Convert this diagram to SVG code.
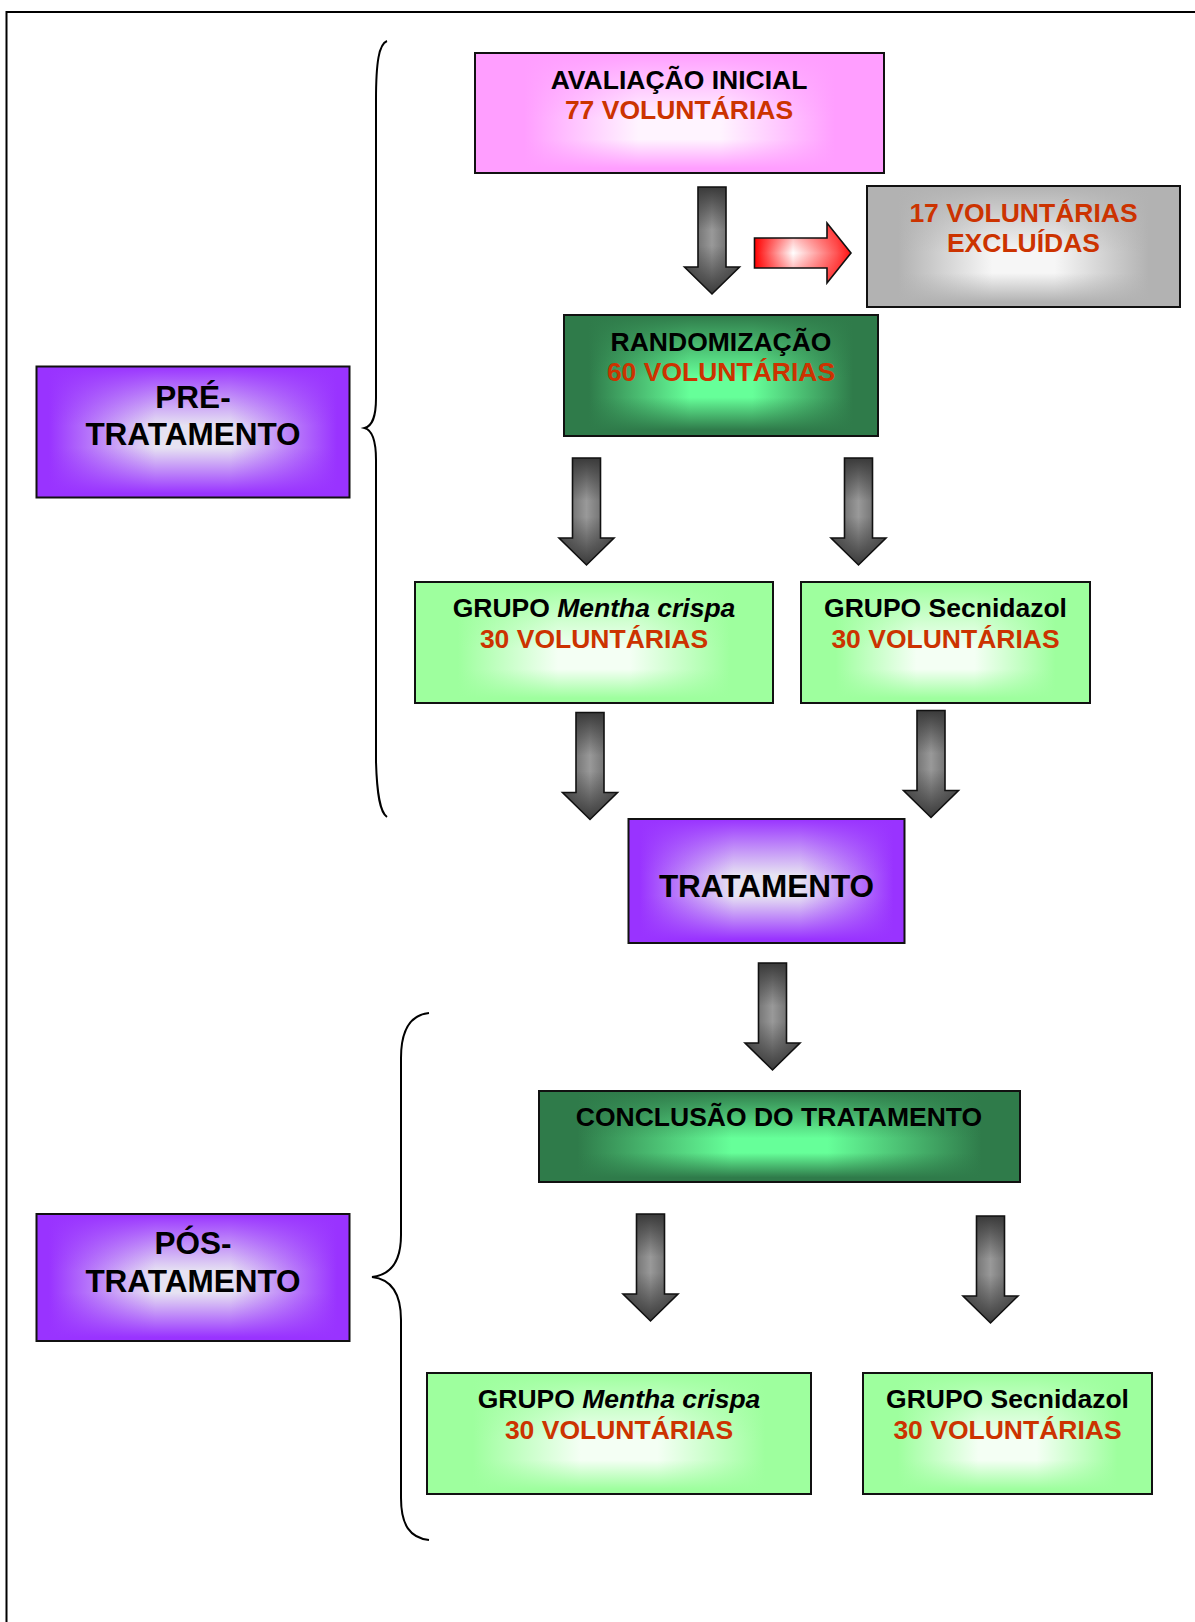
<svg xmlns="http://www.w3.org/2000/svg" xmlns:xlink="http://www.w3.org/1999/xlink" width="1195" height="1622" viewBox="0 0 1195 1622">
<style>
text{font-family:"Liberation Sans",Arial,sans-serif;font-weight:bold;text-anchor:middle;fill:#000}
.t{font-size:26.5px}
.b{font-size:31.5px}
.r{fill:#CC3300}
.i{font-style:italic}
.edge{fill:none;stroke:#111;stroke-width:2}
.arrow-edge{fill:none;stroke:#111;stroke-width:1.6;stroke-linejoin:miter}
.brace{fill:none;stroke:#000;stroke-width:2}
</style>
<defs>
<linearGradient id="hPink" x1="0" y1="0" x2="1" y2="0"><stop offset="0" stop-color="#FF9EFF"/><stop offset="0.12" stop-color="#FF9EFF"/><stop offset="0.4" stop-color="#FFF4FF"/><stop offset="0.6" stop-color="#FFF4FF"/><stop offset="0.88" stop-color="#FF9EFF"/><stop offset="1" stop-color="#FF9EFF"/></linearGradient>
<linearGradient id="vPink" x1="0" y1="0" x2="0" y2="1"><stop offset="0" stop-color="#FF9EFF" stop-opacity="1"/><stop offset="0.55" stop-color="#FF9EFF" stop-opacity="0"/><stop offset="0.72" stop-color="#FF9EFF" stop-opacity="0"/><stop offset="0.96" stop-color="#FF9EFF" stop-opacity="1"/><stop offset="1" stop-color="#FF9EFF" stop-opacity="1"/></linearGradient>

<linearGradient id="hGray" x1="0" y1="0" x2="1" y2="0"><stop offset="0" stop-color="#B2B2B2"/><stop offset="0.1" stop-color="#B2B2B2"/><stop offset="0.4" stop-color="#F6F6F6"/><stop offset="0.6" stop-color="#F6F6F6"/><stop offset="0.9" stop-color="#B2B2B2"/><stop offset="1" stop-color="#B2B2B2"/></linearGradient>
<linearGradient id="vGray" x1="0" y1="0" x2="0" y2="1"><stop offset="0" stop-color="#B2B2B2" stop-opacity="1"/><stop offset="0.55" stop-color="#B2B2B2" stop-opacity="0"/><stop offset="0.72" stop-color="#B2B2B2" stop-opacity="0"/><stop offset="0.96" stop-color="#B2B2B2" stop-opacity="1"/><stop offset="1" stop-color="#B2B2B2" stop-opacity="1"/></linearGradient>

<linearGradient id="hDG" x1="0" y1="0" x2="1" y2="0"><stop offset="0" stop-color="#2F7B4A"/><stop offset="0.08" stop-color="#2F7B4A"/><stop offset="0.4" stop-color="#66FF99"/><stop offset="0.6" stop-color="#66FF99"/><stop offset="0.92" stop-color="#2F7B4A"/><stop offset="1" stop-color="#2F7B4A"/></linearGradient>
<linearGradient id="vDG" x1="0" y1="0" x2="0" y2="1"><stop offset="0" stop-color="#2F7B4A" stop-opacity="1"/><stop offset="0.52" stop-color="#2F7B4A" stop-opacity="0"/><stop offset="0.68" stop-color="#2F7B4A" stop-opacity="0"/><stop offset="0.95" stop-color="#2F7B4A" stop-opacity="1"/><stop offset="1" stop-color="#2F7B4A" stop-opacity="1"/></linearGradient>

<linearGradient id="hLG" x1="0" y1="0" x2="1" y2="0"><stop offset="0" stop-color="#9EFF9E"/><stop offset="0.12" stop-color="#9EFF9E"/><stop offset="0.4" stop-color="#F4FFF4"/><stop offset="0.6" stop-color="#F4FFF4"/><stop offset="0.88" stop-color="#9EFF9E"/><stop offset="1" stop-color="#9EFF9E"/></linearGradient>
<linearGradient id="vLG" x1="0" y1="0" x2="0" y2="1"><stop offset="0" stop-color="#9EFF9E" stop-opacity="1"/><stop offset="0.55" stop-color="#9EFF9E" stop-opacity="0"/><stop offset="0.72" stop-color="#9EFF9E" stop-opacity="0"/><stop offset="0.96" stop-color="#9EFF9E" stop-opacity="1"/><stop offset="1" stop-color="#9EFF9E" stop-opacity="1"/></linearGradient>

<linearGradient id="hPu" x1="0" y1="0" x2="1" y2="0"><stop offset="0" stop-color="#9933FF"/><stop offset="0.04" stop-color="#9933FF"/><stop offset="0.38" stop-color="#E6E2F2"/><stop offset="0.62" stop-color="#E6E2F2"/><stop offset="0.96" stop-color="#9933FF"/><stop offset="1" stop-color="#9933FF"/></linearGradient>
<linearGradient id="vPu" x1="0" y1="0" x2="0" y2="1"><stop offset="0" stop-color="#9933FF" stop-opacity="1"/><stop offset="0.45" stop-color="#9933FF" stop-opacity="0"/><stop offset="0.62" stop-color="#9933FF" stop-opacity="0"/><stop offset="0.97" stop-color="#9933FF" stop-opacity="1"/><stop offset="1" stop-color="#9933FF" stop-opacity="1"/></linearGradient>

<linearGradient id="hAr" x1="0" y1="0" x2="1" y2="0"><stop offset="0" stop-color="#555555"/><stop offset="0.5" stop-color="#999999"/><stop offset="1" stop-color="#555555"/></linearGradient>
<linearGradient id="vAr" x1="0" y1="0" x2="0" y2="1"><stop offset="0" stop-color="#3A3A3A" stop-opacity="1"/><stop offset="0.4" stop-color="#3A3A3A" stop-opacity="0"/><stop offset="0.55" stop-color="#3A3A3A" stop-opacity="0"/><stop offset="1" stop-color="#3A3A3A" stop-opacity="1"/></linearGradient>

<linearGradient id="hRed" x1="0" y1="0" x2="1" y2="0"><stop offset="0" stop-color="#FF0000"/><stop offset="0.4" stop-color="#FFFFFF"/><stop offset="0.85" stop-color="#FF5555"/><stop offset="1" stop-color="#FF1111"/></linearGradient>
<linearGradient id="vRed" x1="0" y1="0" x2="0" y2="1"><stop offset="0" stop-color="#FF0000" stop-opacity="0.5"/><stop offset="0.5" stop-color="#FF0000" stop-opacity="0"/><stop offset="1" stop-color="#FF0000" stop-opacity="0.5"/></linearGradient>

<path id="down" d="M-14,0 H14 V80 H27.5 L0,107 L-27.5,80 H-14 Z"/>
</defs>

<rect width="1195" height="1622" fill="#FFFFFF"/>

<g id="frame"><path d="M6.5,1622 V12 H1195" fill="none" stroke="#000" stroke-width="2"/></g>

<g id="braces">
<path class="brace" d="M387,41 C379,44 376,62 376,100 V398 C376,418 372,426 364.5,428 C372,430 376,440 376,460 V762 C377,795 380,812 387,817"/>
<path class="brace" d="M429,1013 C410,1015 401,1030 401,1058 V1235 C401,1262 390,1275 372,1277 C390,1279 401,1292 401,1320 V1498 C401,1525 410,1538 429,1540"/>
</g>

<g id="connectors">
<g transform="translate(712,187)"><use xlink:href="#down" fill="url(#hAr)"/><use xlink:href="#down" fill="url(#vAr)"/><use xlink:href="#down" class="arrow-edge"/></g>
<g transform="translate(586.5,458)"><use xlink:href="#down" fill="url(#hAr)"/><use xlink:href="#down" fill="url(#vAr)"/><use xlink:href="#down" class="arrow-edge"/></g>
<g transform="translate(858.5,458)"><use xlink:href="#down" fill="url(#hAr)"/><use xlink:href="#down" fill="url(#vAr)"/><use xlink:href="#down" class="arrow-edge"/></g>
<g transform="translate(590,712.5)"><use xlink:href="#down" fill="url(#hAr)"/><use xlink:href="#down" fill="url(#vAr)"/><use xlink:href="#down" class="arrow-edge"/></g>
<g transform="translate(931,710.5)"><use xlink:href="#down" fill="url(#hAr)"/><use xlink:href="#down" fill="url(#vAr)"/><use xlink:href="#down" class="arrow-edge"/></g>
<g transform="translate(772.5,963)"><use xlink:href="#down" fill="url(#hAr)"/><use xlink:href="#down" fill="url(#vAr)"/><use xlink:href="#down" class="arrow-edge"/></g>
<g transform="translate(650.5,1214)"><use xlink:href="#down" fill="url(#hAr)"/><use xlink:href="#down" fill="url(#vAr)"/><use xlink:href="#down" class="arrow-edge"/></g>
<g transform="translate(990.5,1216)"><use xlink:href="#down" fill="url(#hAr)"/><use xlink:href="#down" fill="url(#vAr)"/><use xlink:href="#down" class="arrow-edge"/></g>
<g id="red-arrow">
<path d="M754.5,238 H827 V223 L851,253 L827,283 V268 H754.5 Z" fill="url(#hRed)"/>
<path d="M754.5,238 H827 V223 L851,253 L827,283 V268 H754.5 Z" fill="url(#vRed)"/>
<path d="M754.5,238 H827 V223 L851,253 L827,283 V268 H754.5 Z" fill="none" stroke="#111" stroke-width="1.6"/>
</g>
</g>

<g id="avaliacao">
<rect x="475" y="53" width="409" height="120" fill="url(#hPink)"/>
<rect x="475" y="53" width="409" height="120" fill="url(#vPink)"/>
<rect x="475" y="53" width="409" height="120" class="edge"/>
<text class="t" x="679" y="89">AVALIAÇÃO INICIAL</text>
<text class="t r" x="679" y="119">77 VOLUNTÁRIAS</text>
</g>

<g id="excluidas">
<rect x="867" y="186" width="313" height="121" fill="url(#hGray)"/>
<rect x="867" y="186" width="313" height="121" fill="url(#vGray)"/>
<rect x="867" y="186" width="313" height="121" class="edge"/>
<text class="t r" x="1023.5" y="222">17 VOLUNTÁRIAS</text>
<text class="t r" x="1023.5" y="252">EXCLUÍDAS</text>
</g>

<g id="randomizacao">
<rect x="564" y="315" width="314" height="121" fill="url(#hDG)"/>
<rect x="564" y="315" width="314" height="121" fill="url(#vDG)"/>
<rect x="564" y="315" width="314" height="121" class="edge"/>
<text class="t" x="721" y="351">RANDOMIZAÇÃO</text>
<text class="t r" x="721" y="381">60 VOLUNTÁRIAS</text>
</g>

<g id="pre-tratamento">
<rect x="36.5" y="366.5" width="313" height="131" fill="url(#hPu)"/>
<rect x="36.5" y="366.5" width="313" height="131" fill="url(#vPu)"/>
<rect x="36.5" y="366.5" width="313" height="131" class="edge"/>
<text class="b" x="193" y="408">PRÉ-</text>
<text class="b" x="193" y="445">TRATAMENTO</text>
</g>

<g id="grupo-mentha-1">
<rect x="415" y="582" width="358" height="121" fill="url(#hLG)"/>
<rect x="415" y="582" width="358" height="121" fill="url(#vLG)"/>
<rect x="415" y="582" width="358" height="121" class="edge"/>
<text class="t" x="594" y="617">GRUPO <tspan class="i">Mentha crispa</tspan></text>
<text class="t r" x="594" y="648">30 VOLUNTÁRIAS</text>
</g>

<g id="grupo-secnidazol-1">
<rect x="801" y="582" width="289" height="121" fill="url(#hLG)"/>
<rect x="801" y="582" width="289" height="121" fill="url(#vLG)"/>
<rect x="801" y="582" width="289" height="121" class="edge"/>
<text class="t" x="945.5" y="617">GRUPO Secnidazol</text>
<text class="t r" x="945.5" y="648">30 VOLUNTÁRIAS</text>
</g>

<g id="tratamento">
<rect x="628.5" y="819" width="276" height="124" fill="url(#hPu)"/>
<rect x="628.5" y="819" width="276" height="124" fill="url(#vPu)"/>
<rect x="628.5" y="819" width="276" height="124" class="edge"/>
<text class="b" x="766.5" y="897">TRATAMENTO</text>
</g>

<g id="conclusao">
<rect x="539" y="1091" width="481" height="91" fill="url(#hDG)"/>
<rect x="539" y="1091" width="481" height="91" fill="url(#vDG)"/>
<rect x="539" y="1091" width="481" height="91" class="edge"/>
<text class="t" x="779" y="1126">CONCLUSÃO DO TRATAMENTO</text>
</g>

<g id="pos-tratamento">
<rect x="36.5" y="1214" width="313" height="127" fill="url(#hPu)"/>
<rect x="36.5" y="1214" width="313" height="127" fill="url(#vPu)"/>
<rect x="36.5" y="1214" width="313" height="127" class="edge"/>
<text class="b" x="193" y="1254">PÓS-</text>
<text class="b" x="193" y="1292">TRATAMENTO</text>
</g>

<g id="grupo-mentha-2">
<rect x="427" y="1373" width="384" height="121" fill="url(#hLG)"/>
<rect x="427" y="1373" width="384" height="121" fill="url(#vLG)"/>
<rect x="427" y="1373" width="384" height="121" class="edge"/>
<text class="t" x="619" y="1408">GRUPO <tspan class="i">Mentha crispa</tspan></text>
<text class="t r" x="619" y="1439">30 VOLUNTÁRIAS</text>
</g>

<g id="grupo-secnidazol-2">
<rect x="863" y="1373" width="289" height="121" fill="url(#hLG)"/>
<rect x="863" y="1373" width="289" height="121" fill="url(#vLG)"/>
<rect x="863" y="1373" width="289" height="121" class="edge"/>
<text class="t" x="1007.5" y="1408">GRUPO Secnidazol</text>
<text class="t r" x="1007.5" y="1439">30 VOLUNTÁRIAS</text>
</g>
</svg>
